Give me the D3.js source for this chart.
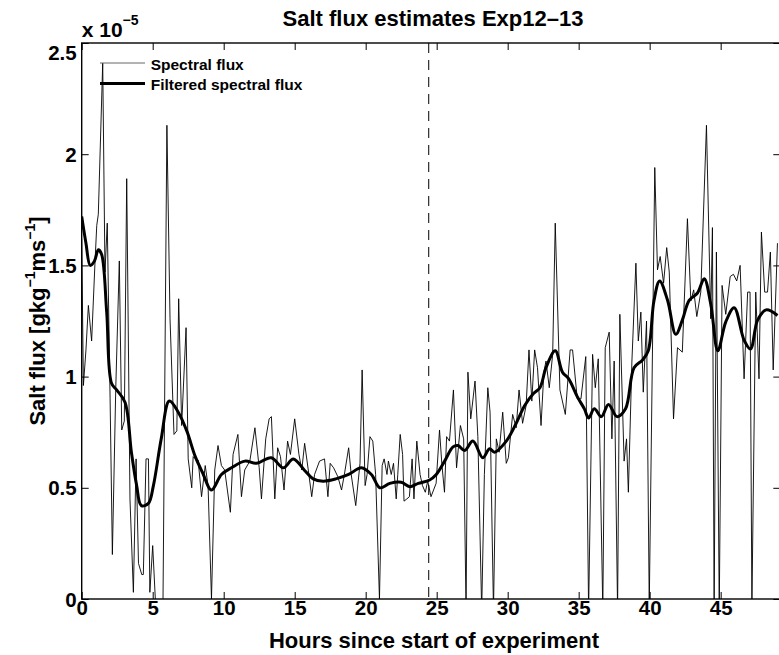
<!DOCTYPE html>
<html><head><meta charset="utf-8">
<script src="https://cdn.jsdelivr.net/npm/d3@7"></script>
<style>
html,body{margin:0;padding:0;background:#fff;}
svg text{font-family:"Liberation Sans",Arial,Helvetica,sans-serif;font-weight:bold;fill:#000;}
</style></head>
<body><svg id="c" width="779" height="655"></svg>
<script>
// ---- data (flux in units of 1e-5 g kg^-1 m s^-1) ----
const spectralHours = [0.0,0.12,0.3,0.47,0.7,0.94,1.06,1.17,1.48,1.64,1.8,2.0,2.16,2.4,2.65,2.82,3.0,3.17,3.4,3.64,3.83,4.0,4.23,4.34,4.53,4.7,4.8,5.0,5.3,5.65,6.0,6.22,6.5,6.7,6.83,7.04,7.35,7.5,7.75,7.85,8.0,8.2,8.44,8.7,8.9,9.14,9.37,9.6,9.84,10.07,10.47,10.66,11.0,11.25,11.48,11.84,12.2,12.5,12.66,12.96,13.2,13.36,13.6,13.8,14.0,14.25,14.5,14.7,15.0,15.3,15.5,15.7,16.0,16.2,16.4,16.75,17.1,17.34,17.5,17.74,18.04,18.3,18.5,18.8,18.98,19.3,19.6,19.75,19.96,20.1,20.3,20.5,20.7,20.97,21.16,21.3,21.5,21.6,21.8,21.96,22.15,22.26,22.43,22.6,22.7,22.9,23.08,23.27,23.4,23.6,23.83,24.0,24.2,24.37,24.6,24.96,25.2,25.36,25.55,25.7,25.9,26.18,26.4,26.67,26.9,27.07,27.2,27.4,27.7,27.9,28.17,28.36,28.6,28.76,29.0,29.2,29.4,29.65,29.9,30.05,30.35,30.6,30.8,31.05,31.3,31.5,31.7,31.9,32.1,32.35,32.55,32.7,32.93,33.17,33.35,33.68,34.06,34.4,34.57,34.9,35.16,35.5,35.7,35.98,36.17,36.38,36.7,36.87,37.15,37.34,37.5,37.74,37.9,38.2,38.37,38.5,38.75,39.03,39.2,39.38,39.55,39.78,39.97,40.36,40.55,40.74,40.98,41.2,41.38,41.68,41.96,42.3,42.66,42.9,43.1,43.32,43.6,44.0,44.3,44.42,44.54,44.7,44.9,45.1,45.36,45.67,45.9,46.13,46.37,46.65,46.9,47.07,47.2,47.47,47.7,47.87,48.1,48.3,48.5,48.7,49.0];
const spectralFlux = [1.62,0.96,1.12,1.32,1.16,1.52,1.68,1.73,2.41,1.47,1.69,0.9,0.2,0.95,1.52,0.76,0.8,1.89,0.45,0.03,0.63,0.16,0.11,0.11,0.63,0.63,0.03,0.24,-0.15,-0.6,2.13,1.26,0.74,0.756,1.35,0.78,1.22,0.63,0.5,0.64,0.63,0.625,0.46,0.6,0.51,0.0,0.58,0.69,0.6,0.58,0.39,0.65,0.74,0.46,0.58,0.62,0.77,0.59,0.45,0.72,0.81,0.82,0.45,0.68,0.64,0.49,0.71,0.65,0.81,0.65,0.58,0.7,0.56,0.46,0.56,0.62,0.63,0.46,0.61,0.59,0.55,0.49,0.56,0.68,0.56,0.42,0.61,1.03,0.51,0.56,0.73,0.71,0.56,0.0,0.6,0.63,0.56,0.62,0.56,0.61,0.45,0.56,0.74,0.65,0.44,0.45,0.46,0.63,0.45,0.71,0.56,0.51,0.48,0.53,0.46,0.52,0.76,0.61,0.48,0.73,0.71,0.94,0.59,0.78,0.72,-0.05,1.02,0.81,0.98,0.73,-0.05,0.56,0.95,0.84,-0.05,0.72,0.66,0.84,0.61,0.635,0.83,0.77,0.94,0.79,0.87,1.12,0.89,1.12,1.04,0.78,1.02,1.07,0.95,1.1,1.69,0.94,0.83,1.12,1.12,0.9,0.9,1.09,-0.05,1.1,0.95,1.08,-0.05,1.13,1.2,0.72,1.07,-0.05,1.28,0.62,0.72,0.48,1.07,1.51,1.16,1.29,0.93,1.25,-0.03,1.94,1.48,1.54,1.42,1.58,1.47,0.81,1.13,1.11,1.71,1.34,1.39,1.27,1.38,2.13,1.26,1.67,-0.05,1.56,-0.05,1.41,1.28,1.45,1.46,1.43,1.5,0.99,1.38,1.38,-0.03,1.38,0.99,1.65,1.38,1.38,1.56,1.03,1.6];
const filteredHours = [0,0.3,0.6,0.9,1.17,1.4,1.76,2.1,2.46,3.05,3.5,3.87,4.2,4.7,5.05,5.6,6.17,6.8,7.4,8.0,8.5,9.14,9.84,10.55,11.49,12.3,13.35,14.2,14.9,15.7,16.3,17.0,17.9,18.8,19.7,20.4,21.0,21.7,22.5,23.1,23.7,24.5,24.97,25.56,26.15,26.5,26.97,27.55,28.25,28.72,29.07,29.9,30.6,31.2,31.8,32.27,32.7,33.35,33.86,34.3,34.9,35.4,35.7,36.1,36.6,37.1,37.7,38.3,38.9,39.5,39.9,40.3,40.7,41.26,41.84,42.3,42.78,43.37,43.84,44.3,44.8,45.36,45.95,46.65,47.1,47.6,48.2,49.0];
const filteredFlux = [1.72,1.6,1.5,1.52,1.57,1.55,1.29,0.97,0.94,0.885,0.66,0.51,0.42,0.43,0.51,0.72,0.89,0.84,0.756,0.64,0.57,0.49,0.56,0.59,0.62,0.61,0.635,0.59,0.63,0.578,0.54,0.53,0.54,0.56,0.59,0.56,0.5,0.52,0.525,0.505,0.52,0.535,0.56,0.62,0.684,0.69,0.668,0.71,0.635,0.676,0.66,0.71,0.79,0.87,0.923,0.95,1.04,1.116,1.02,0.99,0.91,0.855,0.814,0.855,0.82,0.875,0.82,0.855,1.04,1.075,1.116,1.34,1.43,1.343,1.19,1.254,1.343,1.376,1.44,1.327,1.116,1.246,1.31,1.164,1.124,1.254,1.30,1.275];
const markerHour = 24.44;
const xTicks = [0,5,10,15,20,25,30,35,40,45];
const yTicks = [0,0.5,1,1.5,2,2.5];
const yTickLabels = ["0","0.5","1","1.5","2","2.5"];
const legendLabels = ["Spectral flux","Filtered spectral flux"];
const titleText = "Salt flux estimates Exp12\u201313";
const xLabelText = "Hours since start of experiment";

// ---- layout ----
const L = 81.7, T = 43, R = 780.3, B = 599;
const svg = d3.select("#c");
const x = d3.scaleLinear().domain([0, 49.2]).range([L, R]);
const y = d3.scaleLinear().domain([0, 2.5]).range([B, T]);

svg.append("defs").append("clipPath").attr("id","clip")
  .append("rect").attr("x",L).attr("y",T).attr("width",R-L).attr("height",B-T);

const plot = svg.append("g").attr("clip-path","url(#clip)");

// dashed marker
plot.append("line").attr("x1",x(markerHour)).attr("x2",x(markerHour))
  .attr("y1",T).attr("y2",B).attr("stroke","#000").attr("stroke-width",1)
  .attr("stroke-dasharray","10,7");

const spec = spectralHours.map((h,i)=>[h,spectralFlux[i]]);
const filt = filteredHours.map((h,i)=>[h,filteredFlux[i]]);

plot.append("path").datum(spec)
  .attr("d", d3.line().x(d=>x(d[0])).y(d=>y(d[1])))
  .attr("fill","none").attr("stroke","#000").attr("stroke-width",0.9)
  .attr("stroke-linejoin","round");
plot.append("path").datum(filt)
  .attr("d", d3.line().curve(d3.curveCatmullRom.alpha(0.5)).x(d=>x(d[0])).y(d=>y(d[1])))
  .attr("fill","none").attr("stroke","#000").attr("stroke-width",3)
  .attr("stroke-linejoin","round");

// axes (MATLAB style: ticks inside, box)
const tl = 7;
const ax = svg.append("g");
const xb = ax.append("g").attr("transform",`translate(0,${B})`)
  .call(d3.axisBottom(x).tickValues(xTicks).tickSizeInner(-tl).tickSizeOuter(0).tickPadding(4));
const xt = ax.append("g").attr("transform",`translate(0,${T})`)
  .call(d3.axisTop(x).tickValues(xTicks).tickSizeInner(-tl).tickSizeOuter(0).tickFormat(""));
const yl = ax.append("g").attr("transform",`translate(${L},0)`)
  .call(d3.axisLeft(y).tickValues(yTicks).tickSizeInner(-tl).tickSizeOuter(0).tickPadding(6)
  .tickFormat((d,i)=>yTickLabels[i]));
const yr = ax.append("g").attr("transform",`translate(${R},0)`)
  .call(d3.axisRight(y).tickValues(yTicks).tickSizeInner(-tl).tickSizeOuter(0).tickFormat(""));
ax.selectAll(".domain").remove();
ax.selectAll(".tick line").attr("stroke","#000").attr("stroke-width",1);
ax.selectAll(".tick text").attr("font-size",20.5).attr("fill","#000")
  .attr("font-family",'"Liberation Sans",Arial,sans-serif').attr("font-weight","bold");
xb.selectAll(".tick text").attr("dy",null).attr("transform",null).attr("y",16);
yl.selectAll(".tick text").attr("dy","0.35em").attr("x",-5);
yl.selectAll(".tick").filter(d=>d===2.5).select("text").attr("dy","0.8em");

svg.append("rect").attr("x",L).attr("y",T).attr("width",R-L).attr("height",B-T)
  .attr("fill","none").attr("stroke","#000").attr("stroke-width",1.4);

// exponent label
const ex = svg.append("text").attr("x",L).attr("y",36.5).attr("font-size",21);
ex.append("tspan").text("x 10");
ex.append("tspan").attr("font-size",14).attr("dy",-12).text("\u22125");

// title
svg.append("text").attr("x",433).attr("y",26).attr("text-anchor","middle")
  .attr("font-size",22).text(titleText);
// x label
svg.append("text").attr("x",434).attr("y",648).attr("text-anchor","middle")
  .attr("font-size",22).text(xLabelText);
// y label
const yt = svg.append("text").attr("transform","translate(45,321) rotate(-90)")
  .attr("text-anchor","middle").attr("font-size",22);
yt.append("tspan").text("Salt flux [gkg");
yt.append("tspan").attr("font-size",14).attr("dy",-10).text("\u22121");
yt.append("tspan").attr("dy",10).text("ms");
yt.append("tspan").attr("font-size",14).attr("dy",-10).text("\u22121");
yt.append("tspan").attr("dy",10).text("]");

// legend
const lg = svg.append("g");
lg.append("line").attr("x1",100).attr("x2",145).attr("y1",63).attr("y2",63)
  .attr("stroke","#666").attr("stroke-width",1);
lg.append("line").attr("x1",100).attr("x2",145).attr("y1",83.5).attr("y2",83.5)
  .attr("stroke","#000").attr("stroke-width",3);
lg.append("text").attr("x",150.7).attr("y",69.5).attr("font-size",15.5).text(legendLabels[0]);
lg.append("text").attr("x",150.7).attr("y",89.5).attr("font-size",15.5).text(legendLabels[1]);
</script></body></html>
